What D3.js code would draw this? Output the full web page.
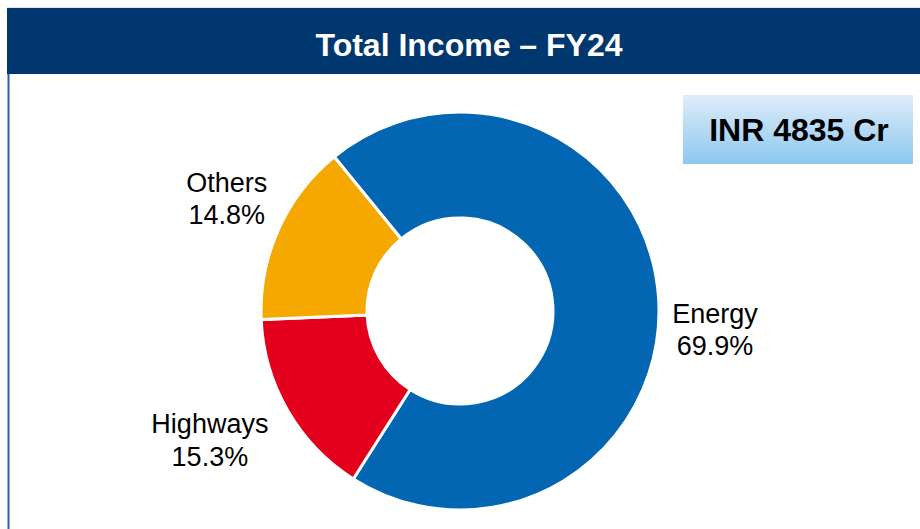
<!DOCTYPE html>
<html>
<head>
<meta charset="utf-8">
<script src="https://cdn.jsdelivr.net/npm/d3@7/dist/d3.min.js"></script>
<style>
  html, body { margin: 0; padding: 0; background: #ffffff; }
  svg { display: block; }
  text { font-family: "Liberation Sans", Arial, sans-serif; }
</style>
</head>
<body>
<svg id="chart" width="920" height="529"></svg>
<script>
// ---- data ----
const title = "Total Income \u2013 FY24";
const totalLabel = "INR 4835 Cr";
const categories = ["Energy", "Highways", "Others"];
const shares = [69.9, 15.3, 14.8];
const colors = ["#0366B3", "#E2001C", "#F5A800"];

// ---- layout ----
const W = 920, H = 529;
const svg = d3.select("#chart");
const cx = 460, cy = 311, outerR = 199, innerR = 93;
const startDeg = -39.2;

// panel
svg.append("line").attr("x1", 8.5).attr("x2", 8.5).attr("y1", 74).attr("y2", H)
  .attr("stroke", "#2A5EA5").attr("stroke-width", 2);
svg.append("line").attr("x1", 7).attr("x2", W).attr("y1", 7.5).attr("y2", 7.5)
  .attr("stroke", "#dde3ea").attr("stroke-width", 1);
svg.append("rect").attr("x", 7).attr("y", 8).attr("width", W - 7).attr("height", 66)
  .attr("fill", "#00376F");
svg.append("text").attr("x", 469).attr("y", 56).attr("text-anchor", "middle")
  .attr("fill", "#ffffff").attr("font-weight", "bold").attr("font-size", 32)
  .text(title);

// total box
const defs = svg.append("defs");
const grad = defs.append("linearGradient").attr("id", "boxGrad")
  .attr("x1", 0).attr("y1", 0).attr("x2", 0).attr("y2", 1);
grad.append("stop").attr("offset", "0%").attr("stop-color", "#DFECF9");
grad.append("stop").attr("offset", "100%").attr("stop-color", "#8CC8F0");
svg.append("rect").attr("x", 683).attr("y", 95).attr("width", 230).attr("height", 69)
  .attr("fill", "url(#boxGrad)");
svg.append("text").attr("x", 799).attr("y", 141).attr("text-anchor", "middle")
  .attr("fill", "#000").attr("font-weight", "bold").attr("font-size", 32)
  .text(totalLabel);

// donut
const data = categories.map((c, i) => ({ name: c, value: shares[i], color: colors[i] }));
const pie = d3.pie().value(d => d.value).sort(null)
  .startAngle(startDeg * Math.PI / 180)
  .endAngle(startDeg * Math.PI / 180 + 2 * Math.PI);
const arcs = pie(data);
const arc = d3.arc().innerRadius(innerR).outerRadius(outerR);
const g = svg.append("g").attr("transform", `translate(${cx},${cy})`);
g.selectAll("path").data(arcs).join("path")
  .attr("d", arc)
  .attr("fill", d => d.data.color)
  .attr("stroke", "#ffffff").attr("stroke-width", 3).attr("stroke-linejoin", "miter");

// labels
const labelArc = d3.arc().innerRadius(260).outerRadius(260);
const nudges = [[-4.5, 31], [-25, -4], [4, -9]];
const lbl = g.selectAll("text.lbl").data(arcs).join("text")
  .attr("class", "lbl")
  .attr("text-anchor", "middle")
  .attr("font-size", 27)
  .attr("fill", "#000")
  .attr("transform", (d, i) => {
    const c = labelArc.centroid(d);
    return `translate(${c[0] + nudges[i][0]},${c[1] + nudges[i][1]})`;
  });
lbl.append("tspan").attr("x", 0).attr("y", -4).text(d => d.data.name);
lbl.append("tspan").attr("x", 0).attr("y", 28.5).text(d => d.data.value.toFixed(1) + "%");
</script>
</body>
</html>
